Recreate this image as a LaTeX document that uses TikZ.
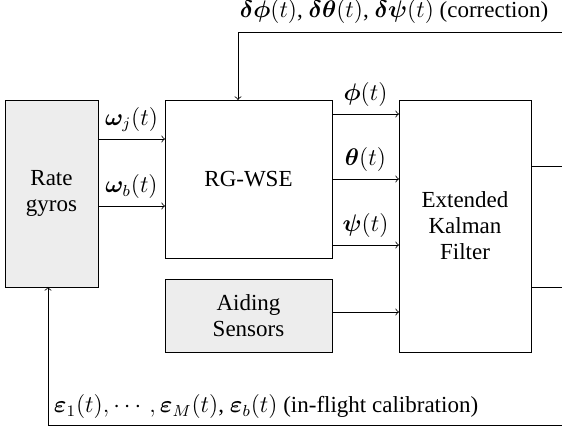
\documentclass[tikz,border=0pt]{standalone}
\usepackage{amsmath}
\usepackage{bm}
\usepackage{fontspec}
\setmainfont{Liberation Serif}
\usetikzlibrary{positioning}
\begin{document}
\begin{tikzpicture}[x=0.5pt,y=0.5pt,font=\fontsize{11.5}{13}\selectfont,
    blk/.style={draw,inner sep=0pt,outer sep=0pt,align=center},
    grayblk/.style={blk,fill=black!7}]
        \useasboundingbox (0,0) rectangle (562,431);
        \node[grayblk,minimum width=46.5pt,minimum height=93.5pt] (gyros) at (51.5,237.5) {Rate\\gyros};
        \node[blk,minimum width=83.5pt,minimum height=79pt] (wse) at (248.5,252) {RG-WSE};
        \node[grayblk,minimum width=83.5pt,minimum height=36.5pt] (aid) at (248.5,115.5) {Aiding\\Sensors};
        \node[blk,minimum width=66pt,minimum height=126pt] (ekf) at (465,205) {Extended\\Kalman\\Filter};
        \draw [->] (gyros.east |- 0,292) -- node [above]{$\bm{\omega}_j(t)$} (wse.west |- 0,292);
        \draw [->] (gyros.east |- 0,225) -- node [above]{$\bm{\omega}_b(t)$} (wse.west |- 0,225);
        \draw [->] (wse.east |- 0,317) -- node [above]{$\bm{\phi}(t)$} (ekf.west |- 0,317);
        \draw [->] (wse.east |- 0,252) -- node [above]{$\bm{\theta}(t)$} (ekf.west |- 0,252);
        \draw [->] (wse.east |- 0,186) -- node [above]{$\bm{\psi}(t)$} (ekf.west |- 0,186);
        \draw [->] (aid.east |- 0,119) -- (ekf.west |- 0,119);
        \draw (ekf.east |- 0,265) -- (562,265);
        \draw (ekf.east |- 0,144) -- (562,144);
        % feedback paths
        \draw [->] (562,399) -| (wse.north -| 238,0);
        \draw [->] (562,6) -| (gyros.south -| 48,0);
        \node (corr) at (394,419) {$\bm{\delta\phi}(t)$, $\bm{\delta\theta}(t)$, $\bm{\delta\psi}(t)$ (correction)};
        \node (calib) at (266,24) {$\bm{\varepsilon}_1(t),\cdots,\bm{\varepsilon}_M(t)$, $\bm{\varepsilon}_b(t)$ (in-flight calibration)};
\end{tikzpicture}
\end{document}
